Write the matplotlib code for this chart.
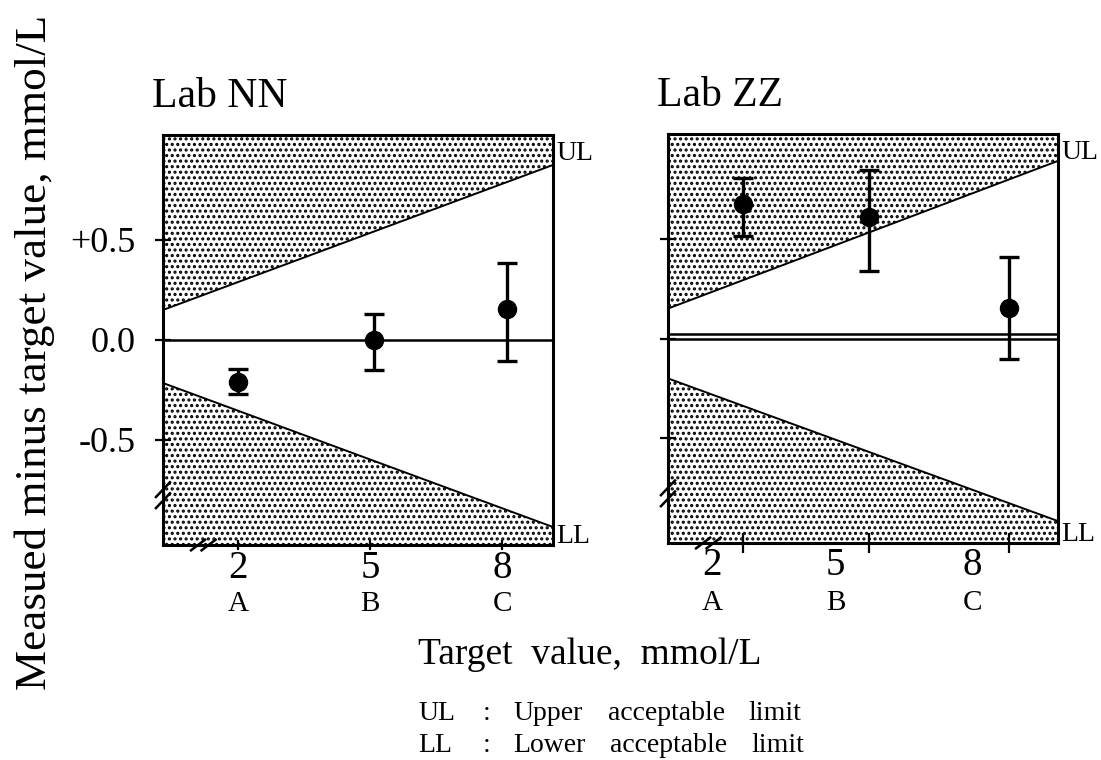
import numpy as np
import matplotlib
matplotlib.use('Agg')
import matplotlib.pyplot as plt
from matplotlib.transforms import blended_transform_factory

plt.rcParams['font.family'] = ['Liberation Serif', 'DejaVu Serif']
plt.rcParams['hatch.linewidth'] = 1.5

# x range of the frame (target value, mmol/L)
lim_x = [0.3, 9.15]

# Lab NN
nn_x = [2.0, 5.1, 8.1]
nn_y = [-0.21, 0.0, 0.155]
nn_lo = [-0.27, -0.15, -0.105]
nn_hi = [-0.145, 0.13, 0.385]
nn_ul = [0.15, 0.875]
nn_ll = [-0.215, -0.935]
nn_ref = [0.0]

# Lab ZZ
zz_x = [2.0, 4.87, 8.05]
zz_y = [0.675, 0.61, 0.155]
zz_lo = [0.515, 0.34, -0.105]
zz_hi = [0.805, 0.845, 0.41]
zz_ul = [0.15, 0.89]
zz_ll = [-0.2, -0.915]
zz_ref = [0.0, 0.022]
zz_label_x = [1.3, 4.1, 7.2]

tick_vals = ['2', '5', '8']
tick_letters = ['A', 'B', 'C']
ytick_vals = [-0.5, 0.0, 0.5]
ytick_labels = ['-0.5', '0.0', '+0.5']

fig = plt.figure(figsize=(11.01, 7.6), dpi=100)
ax1 = fig.add_axes([0.1480, 0.2829, 0.3542, 0.5395])
ax2 = fig.add_axes([0.6067, 0.2855, 0.3542, 0.5382])


def draw_panel(ax, title, x, y, lo, hi, ul, ll, refs):
    ax.set_xlim(lim_x)
    ax.set_ylim(-1.025, 1.025)
    ax.fill_between(lim_x, ul, [1.025, 1.025], facecolor='white',
                    edgecolor='black', hatch='...', linewidth=0)
    ax.fill_between(lim_x, [-1.025, -1.025], ll, facecolor='white',
                    edgecolor='black', hatch='...', linewidth=0)
    ax.plot(lim_x, ul, color='black', lw=1.4)
    ax.plot(lim_x, ll, color='black', lw=1.4)
    for r in refs:
        ax.axhline(r, color='black', lw=1.8)
    y = np.array(y)
    yerr = [y - np.array(lo), np.array(hi) - y]
    ax.errorbar(x, y, yerr=yerr, fmt='o', color='black', ms=13,
                elinewidth=2.4, capsize=7, capthick=2.4, zorder=5)
    for s in ax.spines.values():
        s.set_linewidth(2.2)
    ax.set_yticks(ytick_vals)
    ax.tick_params(axis='y', direction='inout', length=12, width=1.6)
    ax.text(-0.028, 1.093, title, transform=ax.transAxes, fontsize=30,
            ha='left', va='center')
    ax.text(1.008, 0.955, 'UL', transform=ax.transAxes, fontsize=20,
            ha='left', va='center')
    ax.text(1.008, 0.02, 'LL', transform=ax.transAxes, fontsize=20,
            ha='left', va='center')
    # axis break marks
    kw = dict(transform=ax.transAxes, color='black', lw=1.8, clip_on=False)
    for yb in [0.108, 0.135]:
        ax.plot([-0.018, 0.018], [yb - 0.018, yb + 0.018], **kw)
    for xb in [0.09, 0.117]:
        ax.plot([xb - 0.018, xb + 0.018], [-0.013, 0.013], **kw)


draw_panel(ax1, 'Lab NN', nn_x, nn_y, nn_lo, nn_hi, nn_ul, nn_ll, nn_ref)
draw_panel(ax2, 'Lab ZZ', zz_x, zz_y, zz_lo, zz_hi, zz_ul, zz_ll, zz_ref)

ax1.set_yticklabels(ytick_labels, fontsize=26)
ax1.tick_params(axis='y', pad=14)
ax2.set_yticklabels([])

ax1.set_xticks([2, 5, 8])
ax1.set_xticklabels(tick_vals, fontsize=28)
ax1.tick_params(axis='x', direction='inout', length=7, width=1.6, pad=0)

ax2.set_xticks(zz_label_x)
ax2.set_xticklabels(tick_vals, fontsize=28)
ax2.tick_params(axis='x', which='major', length=0, pad=3)
ax2.set_xticks(zz_x, minor=True)
ax2.tick_params(axis='x', which='minor', direction='inout', length=14, width=1.6)

tr1 = blended_transform_factory(ax1.transData, ax1.transAxes)
for xv, t in zip([2, 5, 8], tick_letters):
    ax1.text(xv, -0.143, t, transform=tr1, fontsize=21, ha='center', va='center')
tr2 = blended_transform_factory(ax2.transData, ax2.transAxes)
for xv, t in zip(zz_label_x, tick_letters):
    ax2.text(xv, -0.146, t, transform=tr2, fontsize=21, ha='center', va='center')

fig.text(35 / 1101, 1 - 352 / 760, 'Measued minus target value, mmol/L',
         rotation=90, fontsize=32.5, ha='center', va='center')
fig.text(590 / 1101, 1 - 655 / 760, 'Target  value,  mmol/L', fontsize=27,
         ha='center', va='center')

foot = [('UL', 'Upper'), ('LL', 'Lower')]
for i, (ab, word) in enumerate(foot):
    yy = 1 - (713 + 33 * i) / 760
    fig.text(418 / 1101, yy, ab, fontsize=20, va='center')
    fig.text(483 / 1101, yy, ':', fontsize=20, va='center')
    fig.text(513 / 1101, yy, word, fontsize=20, va='center')
    fig.text((608 + 2 * i) / 1101, yy, 'acceptable', fontsize=20, va='center')
    fig.text((748 + 3 * i) / 1101, yy, 'limit', fontsize=20, va='center')

fig.savefig('out.png', dpi=100)
